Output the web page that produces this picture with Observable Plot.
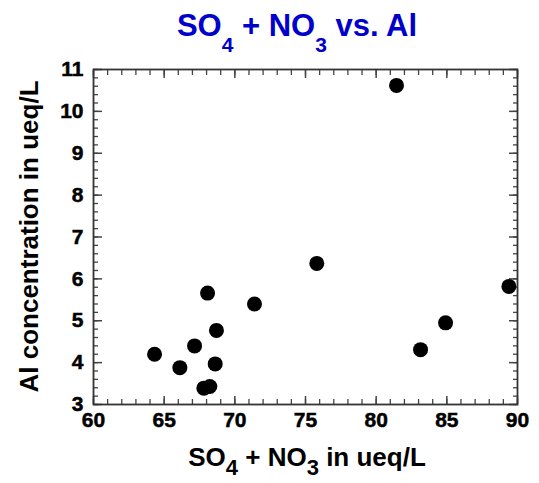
<!DOCTYPE html>
<html>
<head>
<meta charset="utf-8">
<script src="https://cdn.jsdelivr.net/npm/d3@7"></script>
<script src="https://cdn.jsdelivr.net/npm/@observablehq/plot@0.6"></script>
<style>
  html, body { margin: 0; padding: 0; background: #fff; }
  body { width: 539px; height: 483px; overflow: hidden; font-family: "Liberation Sans", Arial, sans-serif; }
  #title { position: relative; height: 50px; width: 539px; box-sizing: border-box; padding-left: 55px; padding-top: 10px;
           text-align: center; font-size: 31px; line-height: 31px; font-weight: bold; color: #0000cc; white-space: nowrap; }
  #title .sub { font-size: 21px; position: relative; top: 16px; }
  svg { display: block; }
</style>
</head>
<body>
<div id="title">SO<span class="sub">4</span> + NO<span class="sub">3</span> vs. Al</div>
<div id="chart"></div>
<script>
// Data
const so4no3 = [64.32, 66.11, 67.15, 67.81, 68.23, 68.07, 68.61, 68.70, 71.39, 75.80, 81.44, 83.14, 84.91, 89.39];
const alConc = [4.20, 3.88, 4.40, 3.39, 3.43, 5.66, 3.97, 4.77, 5.40, 6.37, 10.62, 4.31, 4.95, 5.82];

// Tick labels
const xTicks = [60, 65, 70, 75, 80, 85, 90];
const yTicks = [3, 4, 5, 6, 7, 8, 9, 10, 11];
const xMinor = d3.range(60, 90.001, 1);
const yMinor = d3.range(3, 11.001, 0.2);

const points = so4no3.map((x, i) => ({x, y: alConc[i]}));

const tickStroke = "#444";
const font = "'Liberation Sans', Arial, sans-serif";
const lab = {fill: "#000", fontSize: 21, fontWeight: "bold", fontFamily: font};
const plot = Plot.plot({
  width: 539,
  height: 433,
  marginLeft: 93,
  marginRight: 22,
  marginTop: 19,
  marginBottom: 79,
  x: {domain: [60, 90]},
  y: {domain: [3, 11]},
  style: {fontFamily: font, fontSize: "21px", fontWeight: "bold", color: "#000", background: "#fff"},
  marks: [
    Plot.axisX(xMinor, {anchor: "bottom", tickSize: -5, fill: "none", label: null, stroke: tickStroke, strokeWidth: 1.3}),
    Plot.axisX(xMinor, {anchor: "top", tickSize: -5, fill: "none", label: null, stroke: tickStroke, strokeWidth: 1.3}),
    Plot.axisX(xTicks, {anchor: "bottom", tickSize: -8, tickPadding: 16, label: null, stroke: tickStroke, strokeWidth: 1.5, ...lab}),
    Plot.axisX(xTicks, {anchor: "top", tickSize: -8, fill: "none", label: null, stroke: tickStroke, strokeWidth: 1.5}),
    Plot.axisY(yMinor, {anchor: "left", tickSize: -5, fill: "none", label: null, stroke: tickStroke, strokeWidth: 1.3}),
    Plot.axisY(yMinor, {anchor: "right", tickSize: -5, fill: "none", label: null, stroke: tickStroke, strokeWidth: 1.3}),
    Plot.axisY(yTicks, {anchor: "left", tickSize: -9, tickPadding: 19, label: null, stroke: tickStroke, strokeWidth: 1.5, ...lab}),
    Plot.axisY(yTicks, {anchor: "right", tickSize: -9, fill: "none", label: null, stroke: tickStroke, strokeWidth: 1.5}),
    Plot.frame({stroke: "#333", strokeWidth: 1.8}),
    Plot.dot(points, {x: "x", y: "y", r: 7.5, fill: "#000", stroke: "none"})
  ]
});
document.getElementById("chart").appendChild(plot);

// Slightly heavier tick labels, like the reference
d3.select(plot).selectAll('g[aria-label$="tick label"] text')
  .style("stroke", "#000").style("stroke-width", "0.5px");

// Axis titles with subscripts
const svg = d3.select(plot);
const xl = svg.append("text")
  .attr("x", 307).attr("y", 416)
  .attr("text-anchor", "middle")
  .style("font-family", font)
  .style("font-size", "26px").style("font-weight", "700").attr("fill", "#000");
xl.append("tspan").text("SO");
xl.append("tspan").style("font-size", "22px").attr("dy", 9).text("4");
xl.append("tspan").attr("dy", -9).text("\u00a0+ NO");
xl.append("tspan").style("font-size", "22px").attr("dy", 9).text("3");
xl.append("tspan").attr("dy", -9).text("\u00a0in ueq/L");

svg.append("text")
  .attr("transform", "translate(38,186.5) rotate(-90)")
  .attr("text-anchor", "middle")
  .style("font-family", font)
  .style("font-size", "26px").style("font-weight", "700").attr("fill", "#000")
  .text("Al concentration in ueq/L");
</script>
</body>
</html>
